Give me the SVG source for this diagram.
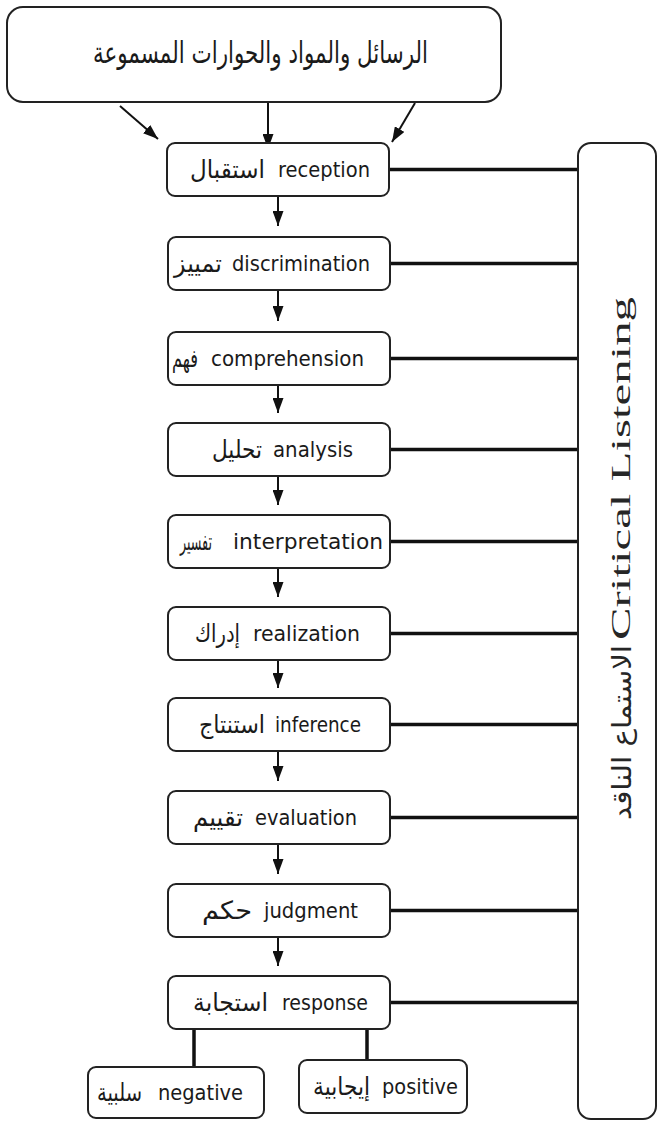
<svg xmlns="http://www.w3.org/2000/svg" width="659" height="1122" viewBox="0 0 659 1122">
  <style>
    .box { fill: #ffffff; stroke: #222222; stroke-width: 2; }
    .en { font-family: "DejaVu Sans", "Liberation Sans", sans-serif; font-size: 22px; fill: #1a1a1a; }
    .ar { font-family: "DejaVu Sans", sans-serif; font-size: 25px; fill: #1a1a1a; }
    .title { font-family: "DejaVu Sans", sans-serif; font-size: 30px; fill: #1a1a1a; }
    .arrow { stroke: #111111; stroke-width: 2; fill: none; marker-end: url(#head); }
    .link { stroke: #111111; stroke-width: 3.5; fill: none; }
    .side { font-family: "Liberation Serif", serif; font-size: 28px; fill: #262626; }
    .sidear { font-family: "DejaVu Sans", sans-serif; font-size: 26px; fill: #262626; }
  </style>
  <defs>
    <marker id="head" viewBox="0 0 15 11" refX="15" refY="5.5" markerUnits="userSpaceOnUse" markerWidth="15" markerHeight="11" orient="auto">
      <path d="M0,0 L15,5.5 L0,11 Z" fill="#111111"/>
    </marker>
  </defs>
  <rect width="659" height="1122" fill="#ffffff"/>

  <!-- connectors -->
  <g id="connectors">
    <!-- source box into reception -->
    <line class="arrow" x1="120" y1="106" x2="158" y2="139"/>
    <line class="arrow" x1="268" y1="102" x2="268" y2="149"/>
    <line class="arrow" x1="415" y1="103" x2="392" y2="142"/>
    <!-- chain of stages -->
    <line class="arrow" x1="278" y1="196" x2="278" y2="226"/>
    <line class="arrow" x1="278" y1="290" x2="278" y2="321"/>
    <line class="arrow" x1="278" y1="385" x2="278" y2="413"/>
    <line class="arrow" x1="278" y1="476" x2="278" y2="505"/>
    <line class="arrow" x1="278" y1="568" x2="278" y2="597"/>
    <line class="arrow" x1="278" y1="660" x2="278" y2="688"/>
    <line class="arrow" x1="278" y1="751" x2="278" y2="781"/>
    <line class="arrow" x1="278" y1="844" x2="278" y2="874"/>
    <line class="arrow" x1="278" y1="937" x2="278" y2="966"/>
    <!-- links to the critical listening bar -->
    <line class="link" x1="389" y1="169.5" x2="578" y2="169.5"/>
    <line class="link" x1="390" y1="263.5" x2="578" y2="263.5"/>
    <line class="link" x1="390" y1="358.5" x2="578" y2="358.5"/>
    <line class="link" x1="390" y1="449.5" x2="578" y2="449.5"/>
    <line class="link" x1="390" y1="541.5" x2="578" y2="541.5"/>
    <line class="link" x1="390" y1="633.5" x2="578" y2="633.5"/>
    <line class="link" x1="390" y1="724.5" x2="578" y2="724.5"/>
    <line class="link" x1="390" y1="817.5" x2="578" y2="817.5"/>
    <line class="link" x1="390" y1="910.5" x2="578" y2="910.5"/>
    <line class="link" x1="390" y1="1002.5" x2="578" y2="1002.5"/>
    <!-- response branches -->
    <line class="link" x1="194" y1="1029" x2="194" y2="1067"/>
    <line class="link" x1="367" y1="1029" x2="367" y2="1060"/>
  </g>

  <g id="source">
    <rect class="box" x="7" y="7" width="494" height="95" rx="16"/>
    <text class="title" x="428" y="63" text-anchor="end" textLength="335" lengthAdjust="spacingAndGlyphs">الرسائل والمواد والحوارات المسموعة</text>
  </g>

  <g id="reception">
    <rect class="box" x="167" y="143" width="222" height="53" rx="8"/>
    <text class="ar" x="265" y="178" text-anchor="end" textLength="75" lengthAdjust="spacingAndGlyphs">استقبال</text>
    <text class="en" x="278" y="177" textLength="92" lengthAdjust="spacingAndGlyphs">reception</text>
  </g>

  <g id="discrimination">
    <rect class="box" x="168" y="237" width="222" height="53" rx="8"/>
    <text class="ar" x="222" y="272" text-anchor="end" textLength="48" lengthAdjust="spacingAndGlyphs">تمييز</text>
    <text class="en" x="232" y="271" textLength="138" lengthAdjust="spacingAndGlyphs">discrimination</text>
  </g>

  <g id="comprehension">
    <rect class="box" x="168" y="332" width="222" height="53" rx="8"/>
    <text class="ar" x="198" y="367" text-anchor="end" textLength="26" lengthAdjust="spacingAndGlyphs">فهم</text>
    <text class="en" x="211" y="366" textLength="153" lengthAdjust="spacingAndGlyphs">comprehension</text>
  </g>

  <g id="analysis">
    <rect class="box" x="168" y="423" width="222" height="53" rx="8"/>
    <text class="ar" x="262" y="458" text-anchor="end" textLength="50" lengthAdjust="spacingAndGlyphs">تحليل</text>
    <text class="en" x="273" y="457" textLength="80" lengthAdjust="spacingAndGlyphs">analysis</text>
  </g>

  <g id="interpretation">
    <rect class="box" x="168" y="515" width="222" height="53" rx="8"/>
    <text class="ar" x="212" y="550" text-anchor="end" textLength="32" lengthAdjust="spacingAndGlyphs">تفسير</text>
    <text class="en" x="233" y="549" textLength="150" lengthAdjust="spacingAndGlyphs">interpretation</text>
  </g>

  <g id="realization">
    <rect class="box" x="168" y="607" width="222" height="53" rx="8"/>
    <text class="ar" x="240" y="642" text-anchor="end" textLength="45" lengthAdjust="spacingAndGlyphs">إدراك</text>
    <text class="en" x="253" y="641" textLength="107" lengthAdjust="spacingAndGlyphs">realization</text>
  </g>

  <g id="inference">
    <rect class="box" x="168" y="698" width="222" height="53" rx="8"/>
    <text class="ar" x="265" y="733" text-anchor="end" textLength="66" lengthAdjust="spacingAndGlyphs">استنتاج</text>
    <text class="en" x="275" y="732" textLength="86" lengthAdjust="spacingAndGlyphs">inference</text>
  </g>

  <g id="evaluation">
    <rect class="box" x="168" y="791" width="222" height="53" rx="8"/>
    <text class="ar" x="243" y="826" text-anchor="end" textLength="50" lengthAdjust="spacingAndGlyphs">تقييم</text>
    <text class="en" x="255" y="825" textLength="102" lengthAdjust="spacingAndGlyphs">evaluation</text>
  </g>

  <g id="judgment">
    <rect class="box" x="168" y="884" width="222" height="53" rx="8"/>
    <text class="ar" x="252" y="919" text-anchor="end" textLength="50" lengthAdjust="spacingAndGlyphs">حكم</text>
    <text class="en" x="264" y="918" textLength="94" lengthAdjust="spacingAndGlyphs">judgment</text>
  </g>

  <g id="response">
    <rect class="box" x="168" y="976" width="222" height="53" rx="8"/>
    <text class="ar" x="268" y="1011" text-anchor="end" textLength="75" lengthAdjust="spacingAndGlyphs">استجابة</text>
    <text class="en" x="282" y="1010" textLength="86" lengthAdjust="spacingAndGlyphs">response</text>
  </g>

  <g id="negative">
    <rect class="box" x="88" y="1067" width="176" height="51" rx="8"/>
    <text class="ar" x="142" y="1101" text-anchor="end" textLength="45" lengthAdjust="spacingAndGlyphs">سلبية</text>
    <text class="en" x="158" y="1100" textLength="85" lengthAdjust="spacingAndGlyphs">negative</text>
  </g>

  <g id="positive">
    <rect class="box" x="299" y="1060" width="168" height="53" rx="8"/>
    <text class="ar" x="370" y="1095" text-anchor="end" textLength="57" lengthAdjust="spacingAndGlyphs">إيجابية</text>
    <text class="en" x="382" y="1094" textLength="76" lengthAdjust="spacingAndGlyphs">positive</text>
  </g>

  <g id="critical-listening">
    <rect class="box" x="578" y="143" width="78" height="976" rx="13"/>
    <g transform="translate(630,640) rotate(-90)">
      <text class="side" x="0" y="0" textLength="343" lengthAdjust="spacingAndGlyphs">Critical Listening</text>
      <text class="sidear" x="-5" y="1" text-anchor="end" textLength="175" lengthAdjust="spacingAndGlyphs">الاستماع الناقد</text>
    </g>
  </g>
</svg>
